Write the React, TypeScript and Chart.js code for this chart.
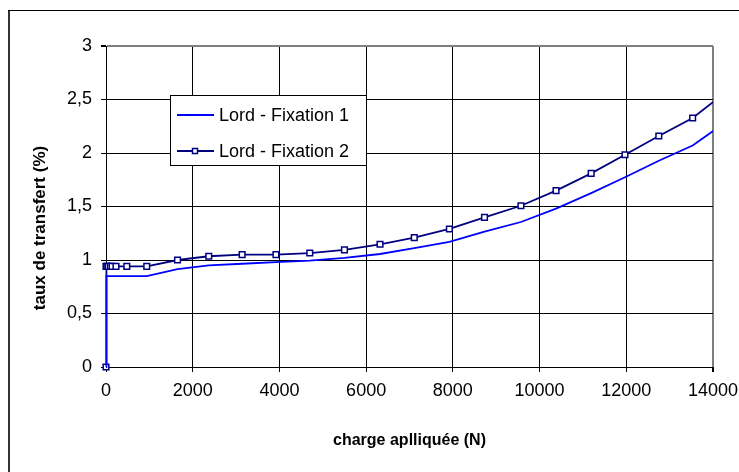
import React, { useEffect, useRef } from "react";
import { Chart, registerables } from "chart.js";

Chart.register(...registerables);

const loads = [0, 0, 20, 50, 100, 140, 230, 480, 940, 1650, 2370, 3140, 3920, 4700, 5500, 6320, 7110, 7920, 8730, 9570, 10380, 11190, 11970, 12750, 13530, 14300];
const fixation1 = [0, 0.85, 0.85, 0.85, 0.85, 0.85, 0.85, 0.85, 0.85, 0.915, 0.95, 0.965, 0.98, 0.995, 1.02, 1.056, 1.11, 1.17, 1.265, 1.355, 1.48, 1.625, 1.773, 1.928, 2.07, 2.29];
const fixation2 = [0, 0.94, 0.94, 0.94, 0.94, 0.94, 0.94, 0.94, 0.94, 1.0, 1.035, 1.05, 1.05, 1.065, 1.095, 1.147, 1.209, 1.29, 1.399, 1.507, 1.648, 1.81, 1.984, 2.159, 2.327, 2.57];
const seriesNames = ["Lord - Fixation 1", "Lord - Fixation 2"];
const xTitle = "charge aplliquée (N)";
const yTitle = "taux de transfert (%)";

const FONT = "'Liberation Sans', Arial, sans-serif";
const C1 = "#0000ff";
const C2 = "#000080";

const decorPlugin = {
  id: "decor",
  afterDraw(chart: any) {
    const ctx = chart.ctx;
    const ca = chart.chartArea;
    ctx.save();
    // outer frame
    ctx.strokeStyle = "#333";
    ctx.lineWidth = 2;
    ctx.beginPath();
    ctx.moveTo(9, 480);
    ctx.lineTo(9, 10.5);
    ctx.stroke();
    ctx.strokeStyle = "#000";
    ctx.lineWidth = 1;
    ctx.beginPath();
    ctx.moveTo(8, 10.5);
    ctx.lineTo(760, 10.5);
    ctx.stroke();

    // axis titles
    ctx.fillStyle = "#000";
    ctx.font = `bold 16px ${FONT}`;
    ctx.textAlign = "center";
    ctx.textBaseline = "middle";
    ctx.fillText(xTitle, (ca.left + ca.right) / 2, 441);
    ctx.font = `bold 17px ${FONT}`;
    ctx.save();
    ctx.translate(40, 228);
    ctx.rotate(-Math.PI / 2);
    ctx.fillText(yTitle, 0, 0);
    ctx.restore();

    // legend
    const lx = 170.5, ly = 95.5, lw = 196, lh = 70;
    ctx.fillStyle = "#fff";
    ctx.fillRect(lx, ly, lw, lh);
    ctx.strokeStyle = "#000";
    ctx.lineWidth = 1;
    ctx.strokeRect(lx, ly, lw, lh);
    const rows = [115, 151];
    const cols = [C1, C2];
    ctx.font = `18px ${FONT}`;
    ctx.textAlign = "left";
    for (let i = 0; i < 2; i++) {
      ctx.strokeStyle = cols[i];
      ctx.lineWidth = 2;
      ctx.beginPath();
      ctx.moveTo(177, rows[i]);
      ctx.lineTo(214, rows[i]);
      ctx.stroke();
      if (i === 1) {
        ctx.fillStyle = "#fff";
        ctx.lineWidth = 1.5;
        ctx.fillRect(192.5, rows[i] - 2.5, 5, 5);
        ctx.strokeRect(192.5, rows[i] - 2.5, 5, 5);
      }
      ctx.fillStyle = "#000";
      ctx.fillText(seriesNames[i], 219, rows[i] + 1);
    }
    ctx.restore();
  },
};

export default function App() {
  const ref = useRef<HTMLCanvasElement>(null);
  useEffect(() => {
    if (!ref.current) return;
    const gridColor = (last: number) => (c: any) =>
      c.tick && c.tick.value === last ? "#808080" : "#000";
    const chart = new Chart(ref.current, {
      type: "line",
      data: {
        datasets: [
          {
            label: seriesNames[0],
            data: loads.map((x, i) => ({ x, y: fixation1[i] })),
            borderColor: C1,
            borderWidth: 1.8,
            pointRadius: 0,
            tension: 0,
            clip: { left: 6, top: 0, right: 0, bottom: 6 },
          },
          {
            label: seriesNames[1],
            data: loads.map((x, i) => ({ x, y: fixation2[i] })),
            borderColor: C2,
            borderWidth: 1.8,
            pointStyle: "rect",
            pointRadius: 4,
            pointBorderWidth: 1.5,
            pointBorderColor: C2,
            pointBackgroundColor: "#fff",
            tension: 0,
            clip: { left: 6, top: 0, right: 0, bottom: 6 },
          },
        ],
      },
      options: {
        responsive: false,
        animation: false,
        layout: { padding: { left: 0, top: 46, right: 26, bottom: 0 } },
        plugins: { legend: { display: false }, tooltip: { enabled: false } },
        scales: {
          x: {
            type: "linear",
            min: 0,
            max: 14000,
            afterFit: (s: any) => { s.height = 105; s.paddingLeft = 0; s.paddingRight = 0; },
            ticks: {
              stepSize: 2000,
              color: "#000",
              padding: 8,
              maxRotation: 0,
              font: { family: FONT, size: 18 },
              callback: (v: any) => String(v),
            },
            grid: { color: gridColor(14000), tickColor: "#000", tickLength: 5, lineWidth: (c: any) => (c.tick && c.tick.value === 14000 ? 2 : 1) },
            border: { color: "#000", width: 1 },
          },
          y: {
            min: 0,
            max: 3,
            afterFit: (s: any) => { s.width = 106; s.paddingTop = 0; s.paddingBottom = 0; },
            ticks: {
              stepSize: 0.5,
              color: "#000",
              padding: 9,
              font: { family: FONT, size: 18 },
              callback: (v: any) => String(v).replace(".", ","),
            },
            grid: { color: gridColor(3), tickColor: "#000", tickLength: 5, lineWidth: (c: any) => (c.tick && c.tick.value === 3 ? 2 : 1) },
            border: { color: "#000", width: 1 },
          },
        },
      },
      plugins: [decorPlugin],
    });
    return () => chart.destroy();
  }, []);
  return (
    <div style={{ position: "absolute", left: 0, top: 0, width: 739, height: 472, background: "#fff" }}>
      <canvas ref={ref} width={739} height={472} style={{ display: "block" }} />
    </div>
  );
}
